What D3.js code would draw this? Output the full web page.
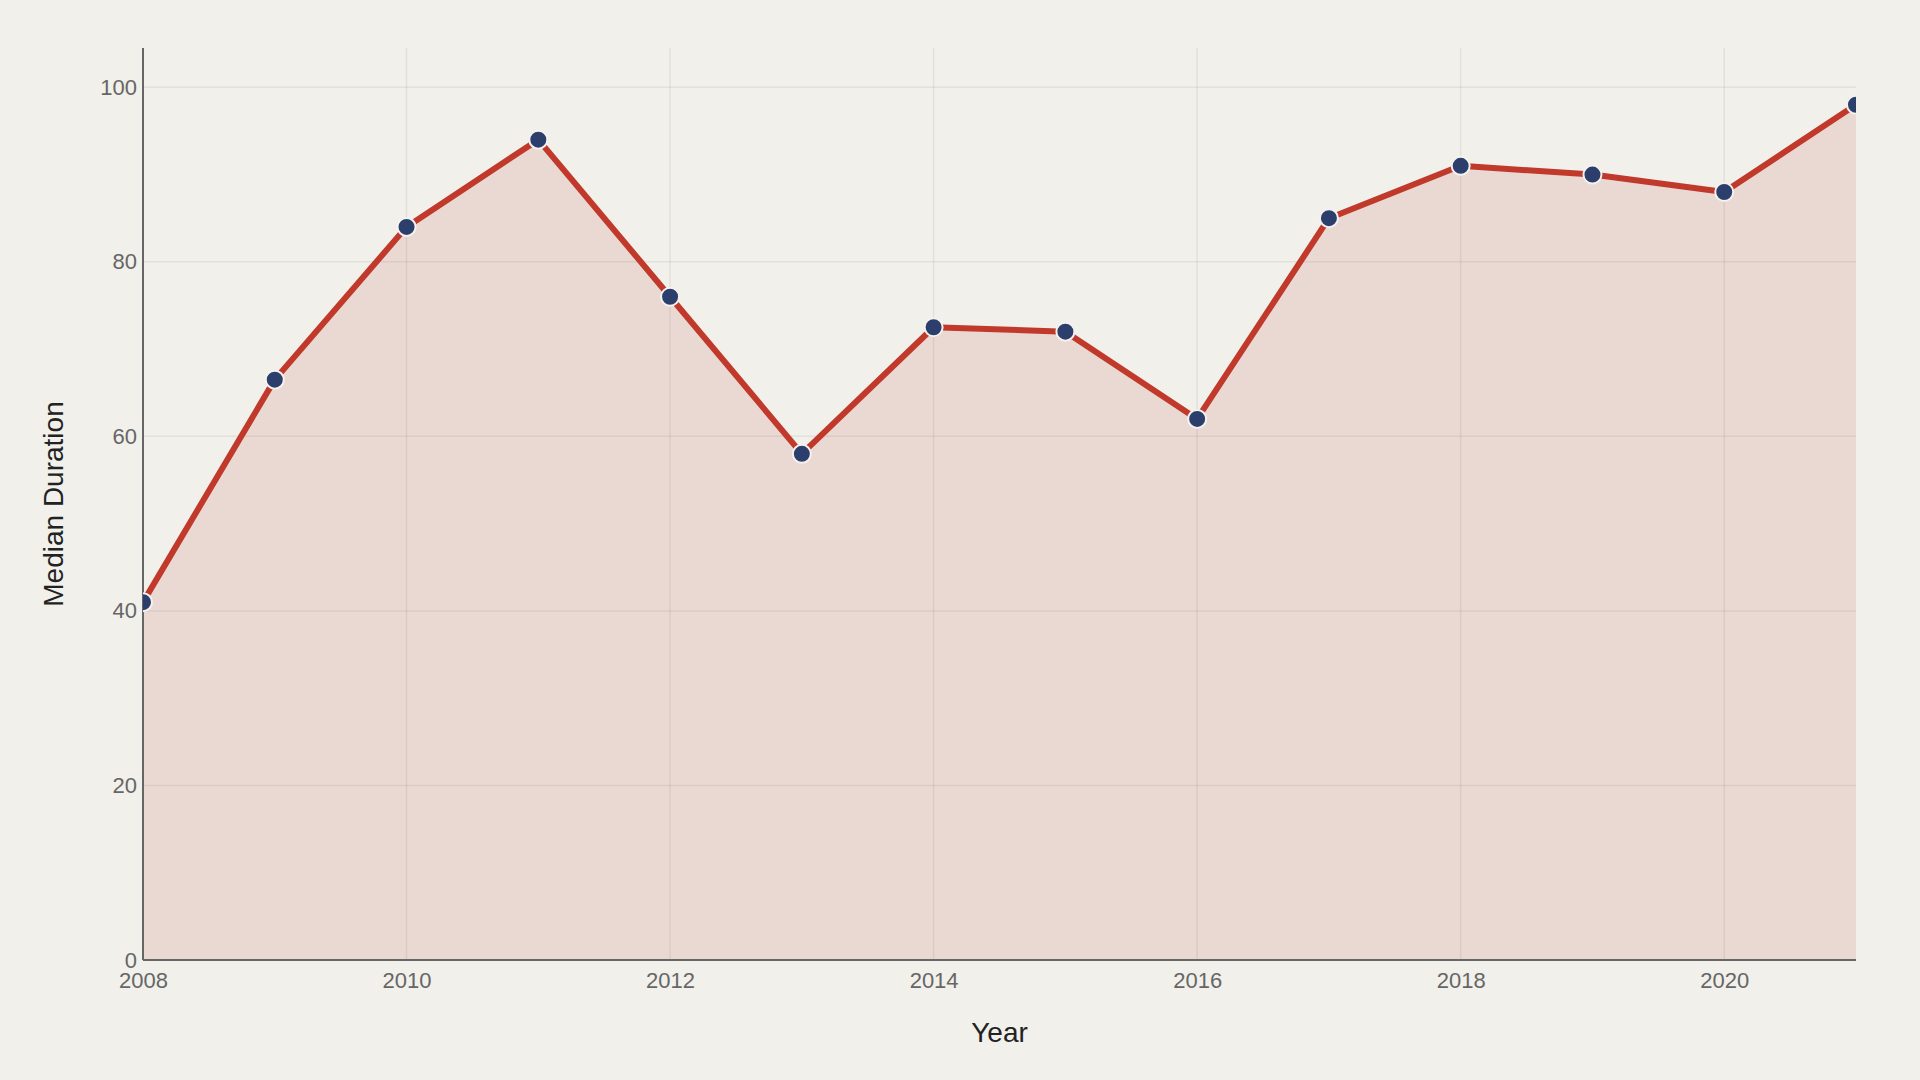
<!DOCTYPE html>
<html>
<head>
<meta charset="utf-8">
<script src="https://cdn.jsdelivr.net/npm/d3@7"></script>
<style>
    html, body { margin: 0; padding: 0; background: #f1f0eb; }
    svg { display: block; font-family: "Liberation Sans", Arial, sans-serif; }
</style>
</head>
<body>
<div id="content"></div>
<script>
// ======= data =======
var years = [2008, 2009, 2010, 2011, 2012, 2013, 2014, 2015, 2016, 2017, 2018, 2019, 2020, 2021];
var medianDuration = [41, 66.5, 84, 94, 76, 58, 72.5, 72, 62, 85, 91, 90, 88, 98];
var xTicks = [2008, 2010, 2012, 2014, 2016, 2018, 2020];
var yTicks = [0, 20, 40, 60, 80, 100];

// ======= formatting =======
var width = 1920;
var height = 1080;
var margin = {top: 48, right: 64, bottom: 120, left: 143};
var innerW = width - margin.left - margin.right;
var innerH = height - margin.top - margin.bottom;

var lineColor = "#c0392b";
var dotColor = "#2c3e6b";
var gridColor = "rgba(60, 40, 30, 0.075)";
var axisColor = "#666666";

var points = years.map(function(y, i) {
    return {year: y, value: medianDuration[i]};
});

// ======= scales =======
var xScale = d3.scaleLinear()
    .domain([2008, 2021])
    .range([0, innerW]);
var yScale = d3.scaleLinear()
    .domain([0, 104.5])
    .range([innerH, 0]);

// ======= elements =======
var svg = d3.select("#content")
    .append("svg")
        .attr("width", width)
        .attr("height", height);
svg.append("rect")
    .attr("width", width)
    .attr("height", height)
    .attr("fill", "#f1f0eb");

svg.append("defs").append("clipPath")
    .attr("id", "plotClip")
    .append("rect")
        .attr("width", innerW)
        .attr("height", innerH);

var g = svg.append("g")
    .attr("transform", "translate(" + margin.left + "," + margin.top + ")");

// ======= area =======
var area = d3.area()
    .x(function(d) { return xScale(d.year); })
    .y0(yScale(0))
    .y1(function(d) { return yScale(d.value); });
g.append("path")
    .datum(points)
    .attr("d", area)
    .attr("fill", lineColor)
    .attr("fill-opacity", 0.12);

// ======= grid =======
g.append("g")
    .attr("class", "grid-y")
    .selectAll("line")
    .data(yTicks.filter(function(d) { return d > 0; }))
    .enter()
    .append("line")
        .attr("x1", 0)
        .attr("x2", innerW)
        .attr("y1", function(d) { return yScale(d); })
        .attr("y2", function(d) { return yScale(d); })
        .attr("stroke", gridColor)
        .attr("stroke-width", 1.5);

g.append("g")
    .attr("class", "grid-x")
    .selectAll("line")
    .data(xTicks.filter(function(d) { return d > 2008; }))
    .enter()
    .append("line")
        .attr("x1", function(d) { return xScale(d); })
        .attr("x2", function(d) { return xScale(d); })
        .attr("y1", 0)
        .attr("y2", innerH)
        .attr("stroke", gridColor)
        .attr("stroke-width", 1.5);

// ======= axes =======
var xAxis = g.append("g")
    .attr("class", "axis axis-x")
    .attr("transform", "translate(0," + innerH + ")")
    .call(d3.axisBottom(xScale)
        .tickValues(xTicks)
        .tickFormat(d3.format("d"))
        .tickSize(0)
        .tickPadding(12));
xAxis.select(".domain")
    .attr("stroke", axisColor)
    .attr("stroke-width", 2)
    .attr("d", "M0,0H" + innerW);
xAxis.selectAll("text")
    .attr("fill", axisColor)
    .style("font-size", "22px");

var yAxis = g.append("g")
    .attr("class", "axis axis-y")
    .call(d3.axisLeft(yScale)
        .tickValues(yTicks)
        .tickSize(0)
        .tickPadding(6));
yAxis.select(".domain")
    .attr("stroke", axisColor)
    .attr("stroke-width", 2)
    .attr("d", "M0,0V" + innerH);
yAxis.selectAll("text")
    .attr("fill", axisColor)
    .style("font-size", "22px");

// ======= line & points =======
var line = d3.line()
    .x(function(d) { return xScale(d.year); })
    .y(function(d) { return yScale(d.value); });

var plot = g.append("g")
    .attr("clip-path", "url(#plotClip)");

plot.append("path")
    .datum(points)
    .attr("d", line)
    .attr("fill", "none")
    .attr("stroke", lineColor)
    .attr("stroke-width", 6)
    .attr("stroke-linejoin", "round");

plot.selectAll("circle")
    .data(points)
    .enter()
    .append("circle")
        .attr("cx", function(d) { return xScale(d.year); })
        .attr("cy", function(d) { return yScale(d.value); })
        .attr("r", 9)
        .attr("fill", dotColor)
        .attr("stroke", "#f4f2ee")
        .attr("stroke-width", 2);

// ======= axis titles =======
g.append("text")
    .attr("x", innerW / 2)
    .attr("y", innerH + 82)
    .attr("text-anchor", "middle")
    .attr("fill", "#222")
    .style("font-size", "28px")
    .text("Year");

g.append("text")
    .attr("transform", "translate(" + (-80) + "," + (innerH / 2) + ") rotate(-90)")
    .attr("text-anchor", "middle")
    .attr("fill", "#222")
    .style("font-size", "28px")
    .text("Median Duration");
</script>
</body>
</html>
